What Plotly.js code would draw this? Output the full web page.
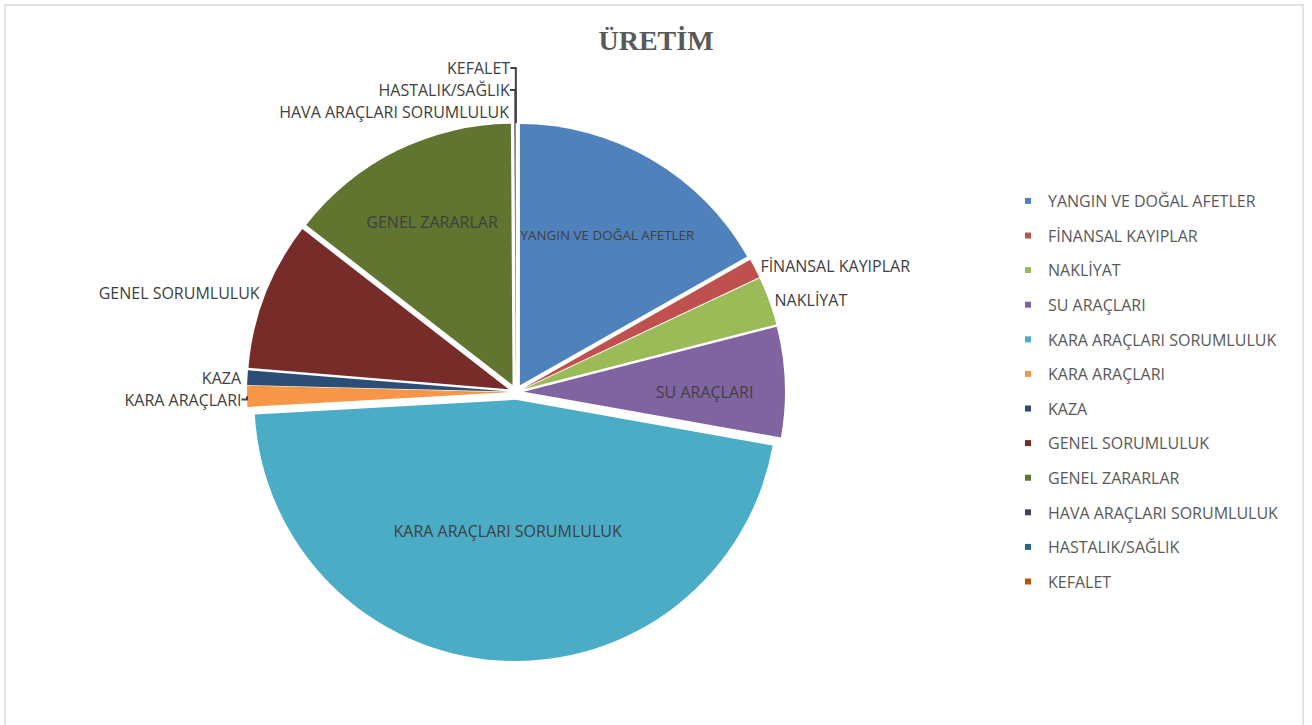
<!DOCTYPE html>
<html>
<head>
<meta charset="utf-8">
<script src="https://cdn.plot.ly/plotly-3.0.1.min.js"></script>
<style>html,body{margin:0;padding:0;background:#fff;}#chart{width:1312px;height:725px;}</style>
</head>
<body>
<div id="chart"></div>
<script>
var labels = ["YANGIN VE DOĞAL AFETLER","FİNANSAL KAYIPLAR","NAKLİYAT","SU ARAÇLARI","KARA ARAÇLARI SORUMLULUK","KARA ARAÇLARI","KAZA","GENEL SORUMLULUK","GENEL ZARARLAR","HAVA ARAÇLARI SORUMLULUK","HASTALIK/SAĞLIK","KEFALET"];
var values = [16.8, 1.2, 3.0, 6.8, 46.3, 1.3, 0.9, 9.2, 14.4, 0.05, 0.03, 0.02];
var colors = ["#4F81BD","#C0504D","#9BBB59","#8064A2","#4BACC6","#F79646","#2C4D75","#772C2A","#5F7530","#4D3B62","#276A7C","#B65708"];
var textPositions = ["inside","outside","outside","inside","inside","outside","outside","outside","inside","outside","outside","outside"];

var fontFam = "'Open Sans', Lato, sans-serif";
var data = [{
  type: "pie",
  labels: labels,
  values: values,
  sort: false,
  direction: "clockwise",
  rotation: 0,
  marker: {colors: colors, line: {width: 0}},
  pull: 0.03,
  textinfo: "label",
  textposition: textPositions,
  insidetextorientation: "horizontal",
  insidetextfont: {family: fontFam, size: 16, color: "#404040"},
  outsidetextfont: {family: fontFam, size: 16, color: "#404040"},
  domain: {x: [0.1883, 0.5983], y: [0.0883, 0.8303]},
  showlegend: false,
  hoverinfo: "none"
}];
labels.forEach(function(lb, i){
  data.push({
    type: "scatter", mode: "markers", x: [null], y: [null],
    name: lb, legendgroup: "g" + i,
    marker: {symbol: "square", size: 6, color: colors[i]},
    showlegend: true, hoverinfo: "none"
  });
});

var layout = {
  width: 1312, height: 725,
  margin: {l: 0, r: 0, t: 0, b: 0},
  paper_bgcolor: "#ffffff",
  plot_bgcolor: "#ffffff",
  title: {text: "ÜRETİM", x: 0.5, xanchor: "center", y: 1 - 40/725, yanchor: "middle",
          font: {family: "'Liberation Serif', 'DejaVu Serif', serif", size: 28, color: "#595959", weight: "bold"}},
  xaxis: {visible: false, domain: [0.9, 0.95]},
  yaxis: {visible: false, domain: [0.9, 0.95]},
  showlegend: true,
  legend: {
    x: 1008/1312, xanchor: "left", y: 1 - 184/725, yanchor: "top",
    font: {family: fontFam, size: 16, color: "#595959"},
    tracegroupgap: 10.8, bgcolor: "rgba(0,0,0,0)", traceorder: "grouped"
  },
  shapes: [{type: "rect", xref: "paper", yref: "paper", x0: 5/1312, x1: 1303/1312, y0: -0.02, y1: 1 - 5/725,
            line: {color: "#d9d9d9", width: 1.5}, fillcolor: "rgba(0,0,0,0)", layer: "below"}]
};
Plotly.newPlot("chart", data, layout, {staticPlot: true, displayModeBar: false});
</script>
</body>
</html>
